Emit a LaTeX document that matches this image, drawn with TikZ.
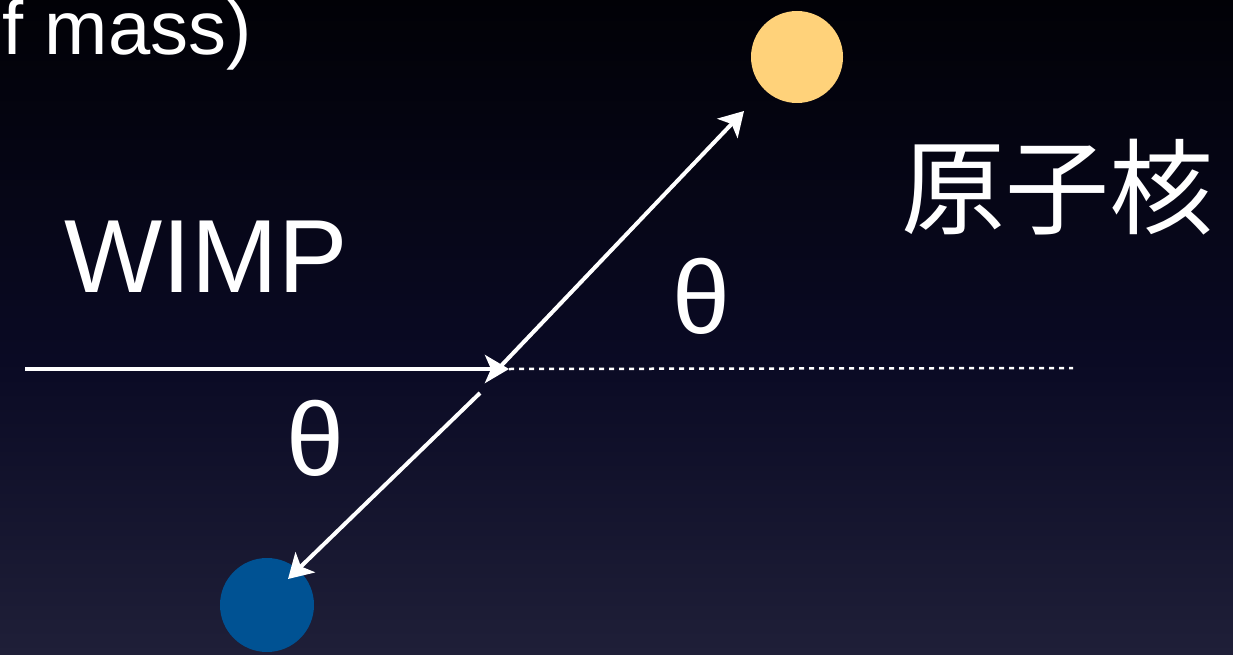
\documentclass[tikz,border=0pt]{standalone}
\usepackage{fontspec}
\setmainfont{Liberation Sans}
\newfontfamily\cjk{Noto Sans CJK JP}
\usetikzlibrary{arrows.meta}
\definecolor{bgtop}{RGB}{1,1,6}
\definecolor{bgmid}{RGB}{10,10,36}
\definecolor{bgbot}{RGB}{31,31,56}
\definecolor{nucl}{RGB}{255,210,122}
\definecolor{wimpc}{RGB}{0,82,147}
\tikzset{
  arr/.style={white, line width=4pt, -{Stealth[length=24pt,width=28pt,inset=6pt]}},
  dotline/.style={white, line width=2.5pt, dash pattern=on 5pt off 5pt},
  lbl/.style={white, inner sep=0pt, font=\fontsize{104}{120}\selectfont},
  ball/.style={circle, inner sep=0pt, minimum size=#1}
}
\begin{document}
\begin{tikzpicture}[x=1pt,y=-1pt]
\useasboundingbox (0,0) rectangle (1233,655);
\clip (0,0) rectangle (1233,655);
\shade[top color=bgtop, bottom color=bgmid] (0,0) rectangle (1233,360);
\shade[top color=bgmid, bottom color=bgbot] (0,360) rectangle (1233,655);
% text
\node[white, inner sep=0pt, anchor=base east, font=\fontsize{76}{86}\selectfont] (com) at (252,55) {f mass)};
\node[lbl] (wimp) at (206,257) {WIMP};
\node[lbl, font=\cjk\fontsize{104}{120}\selectfont] (nuc) at (1057,187) {原子核};
\node[lbl] (th1) at (701,296) {θ};
\node[lbl] (th2) at (315,438) {θ};
% particles
\node[ball=92pt, fill=nucl] (nucball) at (797,57) {};
\node[ball=94pt, fill=wimpc] (wimpball) at (267,605) {};
% connectors
\coordinate (hstart) at (25,369);
\coordinate (hit) at (509,369);
\coordinate (dend) at (1073,368);
\coordinate (nstart) at (499,368);
\coordinate (ntip) at (744,111);
\coordinate (wstart) at (480,393);
\coordinate (wtip) at (288,579);
\draw[dotline] (hit) -- (dend);
\draw[arr] (hstart) -- (hit);
\draw[arr] (nstart) -- (ntip);
\draw[arr] (wstart) -- (wtip);
\end{tikzpicture}
\end{document}
